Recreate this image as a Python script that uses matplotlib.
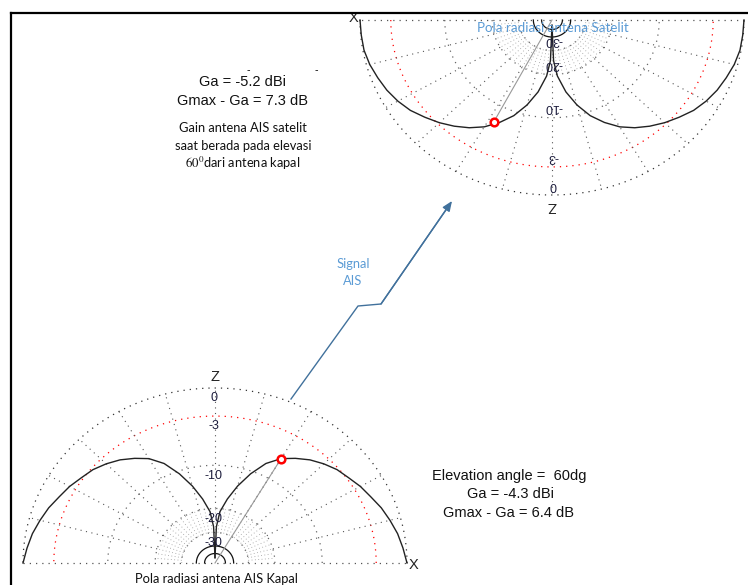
import numpy as np
import matplotlib
matplotlib.use("Agg")
import matplotlib.pyplot as plt

plt.rcParams["mathtext.fontset"] = "stix"

# radiation patterns, gain relative to max (dB) vs elevation (deg), mirrored for the other lobe
ship_el = [0, 5, 10, 15, 20, 25, 30, 35, 40, 45, 50, 55, 60, 65, 70, 75, 80, 85, 88, 90]
ship_db = [0, -0.3, -0.6, -1.0, -1.4, -1.9, -2.3, -2.8, -3.2, -3.8, -4.5, -5.4, -6.4,
           -8.0, -10.5, -13.5, -17.0, -21.0, -27.0, -60.0]
sat_el = [0, 5, 10, 15, 20, 25, 30, 35, 40, 45, 50, 55, 60, 65, 70, 75, 80, 85, 88, 90]
sat_db = [0, -0.05, -0.1, -0.3, -0.6, -0.9, -1.3, -1.8, -2.5, -3.2, -4.0, -4.9, -6.0,
          -7.5, -9.3, -11.8, -15.0, -19.5, -25.0, -60.0]

# marked points (elevation deg, dB)
ship_mark = (60, -6.4)
sat_mark = (62.5, -7.2)

ring_db = [0, -3, -10, -20, -30]
ring_labels = ["0", "-3", "-10", "-20", "-30"]
solid_rings_db = [-40, -50]

# signal arrow path (pixels)
arrow_x = [291, 358, 381, 452]
arrow_y = [399, 306, 304, 201]

W, H = 748, 585
SX, SY = 192, 175  # pixel size of unit radius (picture is slightly stretched)


def db2r(db):
    return 0.89 ** (-np.asarray(db, dtype=float) / 2.0)


def polar_axes(fig, cx, cy, top, bottom, flip):
    xr = 1.12
    left_px = cx - xr * SX
    ax = fig.add_axes([left_px / W, 1 - bottom / H, 2 * xr * SX / W, (bottom - top) / H])
    if flip:
        ax.set_xlim(xr, -xr)
        ax.set_ylim((bottom - cy) / SY, (top - cy) / SY)
    else:
        ax.set_xlim(-xr, xr)
        ax.set_ylim((cy - bottom) / SY, (cy - top) / SY)
    ax.axis("off")
    return ax


def draw_pattern(ax, el, db, mark, flip):
    t = np.linspace(0, np.pi, 361)
    # rings
    for d in ring_db:
        r = db2r(d)
        col = "red" if d == -3 else ("#333333" if d == 0 else "#666666")
        ax.plot(r * np.cos(t), r * np.sin(t), color=col, lw=0.9,
                linestyle=(0, (1, 4)), zorder=1)
    for d in solid_rings_db:
        r = db2r(d)
        ax.plot(r * np.cos(t), r * np.sin(t), color="#111111", lw=0.9, zorder=2)
    # baseline
    ax.plot([-1, 1], [0, 0], color="#555555", lw=0.9, linestyle=(0, (1, 4)), zorder=1)
    # radial lines
    r0, r20, r30 = db2r(0), db2r(-20), db2r(-30)
    for a in np.arange(15, 180, 15):
        ar = np.radians(a)
        ax.plot([r20 * np.cos(ar), r0 * np.cos(ar)], [r20 * np.sin(ar), r0 * np.sin(ar)],
                color="#555555", lw=0.8, linestyle=(0, (1, 4)), zorder=1)
    for a in np.arange(5, 180, 5):
        ar = np.radians(a)
        ax.plot([r30 * np.cos(ar), r20 * np.cos(ar)], [r30 * np.sin(ar), r20 * np.sin(ar)],
                color="#999999", lw=0.6, linestyle=(0, (1, 3)), zorder=1)
    # ring labels
    off = 7.5 if flip else -7.5
    for d, lab in zip(ring_db, ring_labels):
        ax.annotate(lab, (0, db2r(d)), xytext=(-1 if not flip else 1, off),
                    textcoords="offset points", ha="center", va="center",
                    fontsize=9, color="#1c1c3c", rotation=180 if flip else 0,
                    family="Liberation Sans", zorder=4)
    # pattern (both lobes)
    el_r = np.radians(np.asarray(el, dtype=float))
    rr = db2r(db)
    ax.plot(rr * np.cos(el_r), rr * np.sin(el_r), color="#222222", lw=1.0, zorder=3)
    ax.plot(-rr * np.cos(el_r), rr * np.sin(el_r), color="#222222", lw=1.0, zorder=3)
    # marked point
    mr = db2r(mark[1])
    ma = np.radians(mark[0])
    ax.plot([0, mr * np.cos(ma)], [0, mr * np.sin(ma)], color="#999999", lw=0.8, zorder=3)
    ax.plot([mr * np.cos(ma)], [mr * np.sin(ma)], "o", ms=5.5, mfc="white",
            mec="red", mew=1.8, zorder=5)
    # axis labels
    ax.text(1.035, -0.01, "X", ha="center", va="center", fontsize=10.5,
            family="Liberation Sans", color="#222222", rotation=0)
    ax.text(0, 1.065, "Z", ha="center", va="center", fontsize=10.5,
            family="Liberation Sans", color="#222222", rotation=180 if flip else 0)


fig = plt.figure(figsize=(W / 100, H / 100), dpi=100)

ax_ship = polar_axes(fig, 215, 563, 368, 585, flip=False)
draw_pattern(ax_ship, ship_el, ship_db, ship_mark, flip=False)

ax_sat = polar_axes(fig, 552, 20, 13, 218, flip=True)
draw_pattern(ax_sat, sat_el, sat_db, sat_mark, flip=True)

# overlay in pixel coordinates
ov = fig.add_axes([0, 0, 1, 1])
ov.set_xlim(0, W)
ov.set_ylim(H, 0)
ov.axis("off")
ov.patch.set_alpha(0)

ov.plot([11, 11], [13, H], color="black", lw=1.6)
ov.plot([11, W], [13, 13], color="black", lw=1.6)

ov.plot(arrow_x[:-1] + [arrow_x[-1] - 4], arrow_y[:-1] + [arrow_y[-1] + 6],
        color="#41719c", lw=1.0)
ov.annotate("", xy=(arrow_x[-1], arrow_y[-1]), xytext=(arrow_x[-2], arrow_y[-2]),
            arrowprops=dict(arrowstyle="-|>,head_length=0.6,head_width=0.25",
                            color="#41719c", lw=1.0, shrinkA=0, shrinkB=0))

ov.text(353, 264, "Signal", ha="center", va="center", fontsize=9.3, color="#5b9bd5", family="Lato")
ov.text(353, 281, "AIS", ha="center", va="center", fontsize=9.3, color="#5b9bd5", family="Lato")

arial = dict(family="Liberation Sans", color="#111111", fontsize=10.5, ha="center", va="center")
ov.text(243, 82, "Ga = -5.2 dBi", **arial)
ov.text(243, 101, "Gmax - Ga = 7.3 dB", **arial)
ov.text(248, 70, "-", fontsize=7, ha="center", va="center", color="#111111")
ov.text(316, 70, "-", fontsize=7, ha="center", va="center", color="#111111")

cal = dict(family="Lato", color="#111111", fontsize=9.3, ha="center", va="center")
ov.text(243, 128, "Gain antena AIS satelit", **cal)
ov.text(243, 146, "saat berada pada elevasi", **cal)
ov.text(243, 163, r"$\mathrm{60^0}$dari antena kapal", **cal)

ov.text(509, 476, "Elevation angle =  60dg", **arial)
ov.text(511, 494, "Ga = -4.3 dBi", **arial)
ov.text(509, 513, "Gmax - Ga = 6.4 dB", **arial)

ov.text(216, 585, "Pola radiasi antena AIS Kapal", family="Lato", fontsize=9.3,
        color="#111111", ha="center", va="bottom")
ov.text(553, 28, "Pola radiasi antena Satelit", family="Lato", fontsize=9.6,
        color="#5b9bd5", ha="center", va="center")

fig.savefig("out.png", dpi=100)
